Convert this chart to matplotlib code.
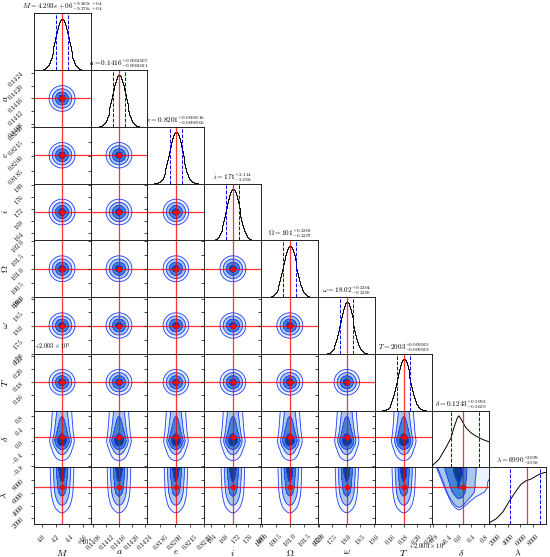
import numpy as np
import matplotlib
matplotlib.use("Agg")
import matplotlib.pyplot as plt
from matplotlib.ticker import FixedLocator, ScalarFormatter

plt.rcParams["font.family"] = "serif"
plt.rcParams["font.serif"] = ["cmr10"]
plt.rcParams["mathtext.fontset"] = "cm"
plt.rcParams["axes.formatter.use_mathtext"] = True

# parameter names, medians and 16/84 % errors (from the panel titles)
names = ["M", "a", "e", "i", r"\Omega", r"\omega", "T", r"\delta", r"\lambda"]
medians = [4.293e6, 0.1416, 0.8201, 171.0, 101.0, 18.02, 2003.18, 0.1243, 6990.0]
err_hi = [9.269e4, 0.0002007, 0.0006516, 2.114, 0.2308, 0.2304, 0.009925, 0.5092, 2099.0]
err_lo = [9.276e4, 0.0002021, 0.0006506, 2.093, 0.2297, 0.2295, 0.009939, 0.3639, 2596.0]

# axis ranges and ticks
ranges = [(3.885e6, 4.701e6), (0.14071, 0.14249), (0.81720, 0.82300), (161.7, 180.3),
          (99.99, 102.01), (16.99, 19.05), (2003.136, 2003.224), (-0.835, 0.965), (1100.0, 10020.0)]
ticks = [[4.0e6, 4.2e6, 4.4e6, 4.6e6],
         [0.1408, 0.1412, 0.1416, 0.1420, 0.1424],
         [0.8170, 0.8185, 0.8200, 0.8215, 0.8230],
         [164, 168, 172, 176, 180],
         [100.0, 100.5, 101.0, 101.5, 102.0],
         [17.0, 17.5, 18.0, 18.5, 19.0],
         [2003.16, 2003.18, 2003.20, 2003.22],
         [-0.8, -0.4, 0.0, 0.4, 0.8],
         [2000, 4000, 6000, 8000]]
x_offsets = {0: r"$\times10^{6}$", 6: r"$+2.003\times10^{3}$"}

# marginal curves of delta and lambda
delta_x = [-0.835, -0.619, -0.403, -0.241, -0.151, -0.043, 0.011, 0.119, 0.227, 0.389, 0.551, 0.767, 0.965]
delta_h = [0.03, 0.145, 0.35, 0.52, 0.70, 0.87, 0.91, 0.81, 0.70, 0.61, 0.55, 0.49, 0.45]
lam_x = [1190, 2170, 3240, 4220, 5290, 6100, 6900, 7700, 8150, 8950, 9750, 10020]
lam_h = [0.03, 0.09, 0.21, 0.39, 0.57, 0.69, 0.75, 0.78, 0.81, 0.86, 0.89, 0.89]
# delta-lambda panel: delta profile at the top, and its spread left / right of zero per lambda row
delta_top = [0.05, 0.6, 0.8, 0.9, 0.95, 0.99, 1.0, 0.95, 0.8, 0.6, 0.48, 0.43, 0.40]
spread_left = [0.03, 0.12, 0.24, 0.35, 0.47, 0.56, 0.65, 0.74, 0.79, 0.88, 0.97, 1.0]
spread_right = [0.05, 0.25, 0.5, 0.75, 0.95, 1.0, 1.0, 1.0, 1.0, 1.0, 1.0, 1.0]

n = len(names)
sig_levels = np.array([0.5, 1.0, 1.5, 2.0])
mass = 1.0 - np.exp(-0.5 * sig_levels ** 2)
fill_colors = ["#eaf2fb", "#a9c8ec", "#4584d2", "#0c3e8e"]
line_color = "#1f3fff"
red = "red"


def marginal(k, npts=121):
    if k == 7:
        return np.array(delta_x), np.array(delta_h)
    if k == 8:
        return np.array(lam_x), np.array(lam_h)
    s = 0.5 * (err_hi[k] + err_lo[k])
    x = np.linspace(ranges[k][0], ranges[k][1], npts)
    return x, np.exp(-0.5 * ((x - medians[k]) / s) ** 2)


def mass_levels(H, W):
    flat = H.ravel()
    order = np.argsort(flat)[::-1]
    cum = np.cumsum((H * W).ravel()[order])
    cum /= cum[-1]
    v = [flat[order][min(np.searchsorted(cum, q), len(cum) - 1)] for q in mass]
    return sorted(v)


fig, axes = plt.subplots(n, n, figsize=(5.5, 5.57), dpi=100)
fig.subplots_adjust(left=0.061, right=0.993, bottom=0.059, top=0.976, wspace=0, hspace=0)

for r in range(n):
    for c in range(n):
        ax = axes[r, c]
        if c > r:
            ax.set_visible(False)
            continue
        for sp in ax.spines.values():
            sp.set_linewidth(0.6)
        ax.tick_params(labelsize=4.5, length=2, width=0.5, labelrotation=45)
        ax.set_xlim(ranges[c])
        ax.xaxis.set_major_locator(FixedLocator(ticks[c]))
        ax.xaxis.set_major_formatter(ScalarFormatter(useMathText=True))
        ax.xaxis.get_offset_text().set_visible(False)

        if r == c:
            # 1D marginal
            if c < 7:
                edges = np.linspace(ranges[c][0], ranges[c][1], 61)
                cen = 0.5 * (edges[1:] + edges[:-1])
                s = 0.5 * (err_hi[c] + err_lo[c])
                h = np.exp(-0.5 * ((cen - medians[c]) / s) ** 2)
                ax.stairs(h, edges, color="k", lw=0.7)
            else:
                x, h = marginal(c)
                ax.plot(x, h, color="k", lw=0.7)
            ax.set_ylim(0, 1.1 * np.max(h))
            ax.set_yticks([])
            for q in (medians[c] - err_lo[c], medians[c] + err_hi[c]):
                ax.axvline(q, color="blue", ls="--", lw=0.7)
            ax.axvline(medians[c], color=red, lw=0.9, alpha=0.8)
            t = "${} = {:.4g}^{{+{:.4g}}}_{{-{:.4g}}}$".format(
                names[c], medians[c], err_hi[c], err_lo[c])
            ax.set_title(t, fontsize=5.2, pad=0.8)
        else:
            # 2D density contours
            if r == 8 and c == 7:
                dx = np.array(delta_x)
                sl = np.array(spread_left)[:, None]
                sr = np.array(spread_right)[:, None]
                X = np.where(dx[None, :] < 0, dx[None, :] * sl, dx[None, :] * sr)
                Y = np.repeat(np.array(lam_x)[:, None], len(dx), axis=1)
                H = np.outer(lam_h, delta_top) / sl ** 0.3
                W = np.abs(np.gradient(X, axis=1)) * np.gradient(Y, axis=0)
            else:
                xg, px = marginal(c)
                yg, py = marginal(r)
                X, Y = np.meshgrid(xg, yg)
                H = np.outer(py, px)
                W = np.outer(np.gradient(yg), np.gradient(xg))
            lv = mass_levels(H, W)
            ax.contourf(X, Y, H, levels=lv + [H.max() * 1.01], colors=fill_colors)
            ax.contour(X, Y, H, levels=lv, colors=line_color, linewidths=0.6)
            ax.axvline(medians[c], color=red, lw=0.9, alpha=0.8)
            ax.axhline(medians[r], color=red, lw=0.9, alpha=0.8)
            ax.plot(medians[c], medians[r], "o", color=red, ms=2.8)
            ax.set_xlim(ranges[c])
            ax.set_ylim(ranges[r])
            ax.yaxis.set_major_locator(FixedLocator(ticks[r]))
            ax.yaxis.set_major_formatter(ScalarFormatter(useMathText=True))
            ax.yaxis.get_offset_text().set_fontsize(4.5)
            if c == 0:
                ax.set_ylabel("$" + names[r] + "$", fontsize=7)
                ax.yaxis.set_label_coords(-0.42, 0.5)
            else:
                ax.tick_params(labelleft=False)
                ax.yaxis.get_offset_text().set_visible(False)

        if r == n - 1:
            ax.set_xlabel("$" + names[c] + "$", fontsize=7)
            ax.xaxis.set_label_coords(0.5, -0.42)
            if c in x_offsets:
                xo = 1.03 if c == 0 else 0.92
                ax.text(xo, -0.22 if c == 0 else -0.29, x_offsets[c], transform=ax.transAxes,
                        ha="right" if c == 0 else "center", va="top", fontsize=4.8)
        else:
            ax.tick_params(labelbottom=False)

fig.savefig("out.png", dpi=100)
